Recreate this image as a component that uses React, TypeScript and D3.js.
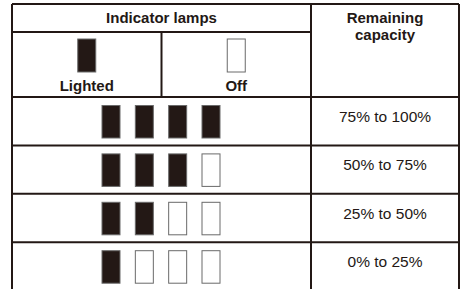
import React from "react";
import * as d3 from "d3";

// table content
const capacityLabels = ["75% to 100%", "50% to 75%", "25% to 50%", "0% to 25%"];
const litCounts = [4, 3, 2, 1];
const lampSlots = [0, 1, 2, 3];
const legendItems = ["Lighted", "Off"];

const W = 460;
const H = 289;
const ink = "#231815";
const font = "'Liberation Sans', Arial, sans-serif";

const App: React.FC = () => {
	const left = 12;
	const right = 459;
	const top = 4;
	const midX = 311;
	const headerSplit = 32;
	const bodyTop = 97;

	const rowY = d3
		.scaleBand<number>()
		.domain(capacityLabels.map((_, i) => i))
		.range([bodyTop, bodyTop + 4 * 48.4])
		.paddingInner(0);

	const legendX = d3
		.scaleBand<string>()
		.domain(legendItems)
		.range([left, midX]);

	const lampW = 18;
	const lampH = 33;
	const lampX = d3
		.scalePoint<number>()
		.domain(lampSlots)
		.range([111, 211]);

	const capX = (midX + right) / 2;

	return (
		<svg
			width={W}
			height={H}
			style={{ position: "absolute", left: 0, top: 0, background: "#fff" }}
			fontFamily={font}
		>
			<rect width={W} height={H} fill="#fff" />

			{/* header texts */}
			<text
				x={(left + midX) / 2}
				y={23}
				textAnchor="middle"
				fontSize={15}
				fontWeight="bold"
				fill={ink}
			>
				Indicator lamps
			</text>
			<text x={capX} y={23} textAnchor="middle" fontSize={15} fontWeight="bold" fill={ink}>
				Remaining
			</text>
			<text x={capX} y={40} textAnchor="middle" fontSize={15} fontWeight="bold" fill={ink}>
				capacity
			</text>

			{legendItems.map((d, i) => {
				const cx = legendX(d)! + legendX.bandwidth() / 2;
				return (
					<g key={d}>
						<rect
							x={cx - lampW / 2}
							y={39}
							width={lampW}
							height={lampH}
							fill={i === 0 ? ink : "#fff"}
							stroke="#6a6a6a"
							strokeWidth={1}
						/>
						<text
							x={cx}
							y={91}
							textAnchor="middle"
							fontSize={15}
							fontWeight="bold"
							fill={ink}
						>
							{d}
						</text>
					</g>
				);
			})}

			{/* body rows */}
			{capacityLabels.map((label, r) => {
				const y0 = rowY(r)!;
				return (
					<g key={label}>
						{lampSlots.map((s) => (
							<rect
								key={s}
								x={lampX(s)! - lampW / 2}
								y={y0 + 8.5}
								width={lampW}
								height={lampH - 0.5}
								fill={s < litCounts[r] ? ink : "#fff"}
								stroke="#6a6a6a"
								strokeWidth={1}
							/>
						))}
						<text
							x={capX}
							y={y0 + 25}
							textAnchor="middle"
							fontSize={15.5}
							fill={ink}
						>
							{label}
						</text>
					</g>
				);
			})}

			{/* grid lines */}
			<g stroke={ink} strokeWidth={2} fill="none">
				<line x1={left} x2={right} y1={top} y2={top} />
				<line x1={left} x2={left} y1={top} y2={H} />
				<line x1={right} x2={right} y1={top} y2={H} />
				<line x1={midX} x2={midX} y1={top} y2={H} />
				<line x1={left} x2={midX} y1={headerSplit} y2={headerSplit} />
				<line
					x1={legendX("Off")!}
					x2={legendX("Off")!}
					y1={headerSplit}
					y2={bodyTop}
				/>
				{capacityLabels.map((_, r) => (
					<line key={r} x1={left} x2={right} y1={rowY(r)!} y2={rowY(r)!} />
				))}
			</g>
		</svg>
	);
};

export default App;
